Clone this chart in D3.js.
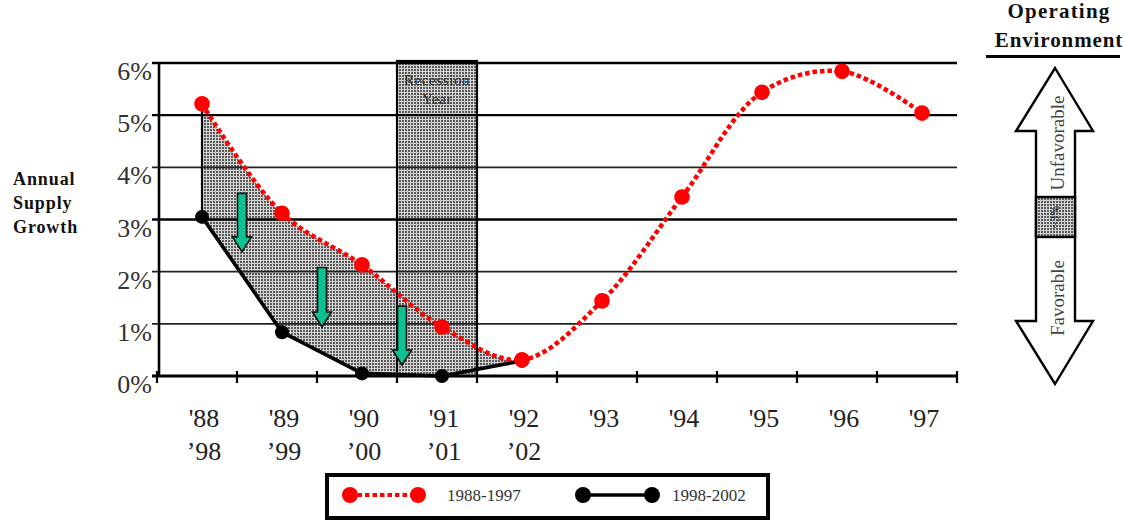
<!DOCTYPE html>
<html>
<head>
<meta charset="utf-8">
<script src="https://cdn.jsdelivr.net/npm/d3@7"></script>
<style>
  html, body { margin: 0; padding: 0; background: #fff; }
  svg { display: block; }
  text { font-family: "Liberation Serif", "Times New Roman", serif; }
</style>
</head>
<body>
<svg id="chart" width="1125" height="523"></svg>
<script>
// Year labels: first row is the 1988-1997 cycle, second row the 1998-2002 forecast
const years = ["'88", "'89", "'90", "'91", "'92", "'93", "'94", "'95", "'96", "'97"];
const forecastYears = ["\u201998", "\u201999", "\u201900", "\u201901", "\u201902"];

// Annual supply growth, percent
const growth8897 = [5.22, 3.12, 2.13, 0.94, 0.31, 1.44, 3.43, 5.44, 5.84, 5.04];
const growth9802 = [3.05, 0.84, 0.05, 0.0, 0.29];

const yTicks = [0, 1, 2, 3, 4, 5, 6];
const yTickLabels = ["0%", "1%", "2%", "3%", "4%", "5%", "6%"];
const majorGrid = [3, 5, 6];

const recessionYear = "'91";

// Down arrows showing the drop from the earlier cycle to the forecast
const dropArrows = [
  { left: "'88", right: "'89", from: 3.5, to: 2.38 },
  { left: "'89", right: "'90", from: 2.08, to: 0.94 },
  { left: "'90", right: "'91", from: 1.34, to: 0.21 }
];

const svg = d3.select("#chart");
const defs = svg.append("defs");

// fine dotted grey fill
const pat = defs.append("pattern")
  .attr("id", "dots").attr("patternUnits", "userSpaceOnUse")
  .attr("width", 3).attr("height", 3);
pat.append("rect").attr("width", 3).attr("height", 3).attr("fill", "#d4d4d4");
pat.append("rect").attr("width", 2).attr("height", 2).attr("fill", "#5a5a5a");

const x = d3.scaleBand().domain(years).range([157, 957]);
const px = d => x(d) + x.bandwidth() / 2 + 5;   // marker position inside each year band
const y = d3.scaleLinear().domain([0, 6]).range([376, 63]);

const red = "#ff0000";
const plotLeft = 159, plotRight = 957;

const series1 = years.map((d, i) => ({ k: d, v: growth8897[i] }));
const series2 = forecastYears.map((d, i) => ({ k: years[i], v: growth9802[i] }));

const redCurve = d3.curveCatmullRom.alpha(0.5);

// ---- shaded gap between the two cycles ----
const clip = defs.append("clipPath").attr("id", "gapClip");
clip.append("rect")
  .attr("x", px(years[0])).attr("y", 0)
  .attr("width", px(years[4]) - px(years[0])).attr("height", 400);

const mask = defs.append("mask").attr("id", "gapMask")
  .attr("maskUnits", "userSpaceOnUse")
  .attr("x", 0).attr("y", 0).attr("width", 1125).attr("height", 523);
mask.append("rect").attr("width", 1125).attr("height", 523).attr("fill", "#fff");
mask.append("path")
  .attr("fill", "#000")
  .attr("d", d3.area().x(d => px(d.k)).y0(y(0) + 20).y1(d => y(d.v))(series2));

svg.append("g").attr("clip-path", "url(#gapClip)").attr("mask", "url(#gapMask)")
  .append("path")
  .attr("fill", "url(#dots)")
  .attr("d", d3.area().curve(redCurve).x(d => px(d.k)).y0(y(0) + 20).y1(d => y(d.v))(series1));

// ---- recession band ----
svg.append("rect")
  .attr("x", x(recessionYear)).attr("y", y(6) - 2)
  .attr("width", x.bandwidth()).attr("height", y(0) - y(6) + 2)
  .attr("fill", "url(#dots)");

// ---- grid lines ----
svg.append("g").selectAll("line").data(yTicks.filter(t => t > 0)).join("line")
  .attr("x1", plotLeft - 7).attr("x2", plotRight)
  .attr("y1", d => y(d)).attr("y2", d => y(d))
  .attr("stroke", d => majorGrid.includes(d) ? "#000" : "#222")
  .attr("stroke-width", d => majorGrid.includes(d) ? 2.4 : 1.6);

// recession band outline and caption
svg.append("rect")
  .attr("x", x(recessionYear)).attr("y", y(6) - 2)
  .attr("width", x.bandwidth()).attr("height", y(0) - y(6) + 2)
  .attr("fill", "none").attr("stroke", "#000").attr("stroke-width", 2.2);
const recCx = x(recessionYear) + x.bandwidth() / 2;
svg.append("text").attr("x", recCx).attr("y", 85).attr("text-anchor", "middle")
  .attr("font-size", 15).attr("letter-spacing", 0.6).attr("fill", "#2a2a2a").text("Recession");
svg.append("text").attr("x", recCx).attr("y", 104).attr("text-anchor", "middle")
  .attr("font-size", 15).attr("letter-spacing", 0.6).attr("fill", "#2a2a2a").text("Year");

// ---- axes ----
svg.append("line").attr("x1", plotLeft).attr("x2", plotLeft)
  .attr("y1", y(6) - 1).attr("y2", y(0) + 1).attr("stroke", "#000").attr("stroke-width", 2.6);
svg.append("line").attr("x1", plotLeft - 7).attr("x2", plotRight + 1)
  .attr("y1", y(0)).attr("y2", y(0)).attr("stroke", "#000").attr("stroke-width", 3);
// x ticks on band boundaries
const bounds = years.map(d => x(d)).concat([x(years[years.length - 1]) + x.bandwidth()]);
svg.append("g").selectAll("line").data(bounds).join("line")
  .attr("x1", d => d).attr("x2", d => d)
  .attr("y1", y(0) - 5).attr("y2", y(0) + 7)
  .attr("stroke", "#000").attr("stroke-width", 2.2);

// y tick labels
svg.append("g").selectAll("text").data(yTicks).join("text")
  .attr("x", 152).attr("y", d => y(d) + 17)
  .attr("text-anchor", "end").attr("font-size", 26).attr("fill", "#333")
  .text((d, i) => yTickLabels[i]);

// x labels, two rows
svg.append("g").selectAll("text").data(years).join("text")
  .attr("x", d => px(d) + 2).attr("y", 427)
  .attr("text-anchor", "middle").attr("font-size", 26).attr("fill", "#222")
  .text(d => d);
svg.append("g").selectAll("text").data(forecastYears).join("text")
  .attr("x", (d, i) => px(years[i]) + 2).attr("y", 460)
  .attr("text-anchor", "middle").attr("font-size", 26).attr("fill", "#222")
  .text(d => d);

// y axis title
["Annual", "Supply", "Growth"].forEach((t, i) => {
  svg.append("text").attr("x", 13).attr("y", 185 + i * 24)
    .attr("font-size", 18).attr("font-weight", "bold").attr("letter-spacing", 0.9)
    .attr("fill", "#111").text(t);
});

// ---- lines ----
// left edge of the shaded gap
svg.append("line")
  .attr("x1", px(years[0])).attr("x2", px(years[0]))
  .attr("y1", y(growth8897[0])).attr("y2", y(growth9802[0]))
  .attr("stroke", "#000").attr("stroke-width", 2.2);

svg.append("path")
  .attr("fill", "none").attr("stroke", "#000").attr("stroke-width", 3.6)
  .attr("stroke-linejoin", "round")
  .attr("d", d3.line().x(d => px(d.k)).y(d => y(d.v))(series2));

svg.append("path")
  .attr("fill", "none").attr("stroke", red).attr("stroke-width", 4.5)
  .attr("stroke-dasharray", "4.5,3")
  .attr("d", d3.line().curve(redCurve).x(d => px(d.k)).y(d => y(d.v))(series1));

svg.append("g").selectAll("circle").data(series2).join("circle")
  .attr("cx", d => px(d.k)).attr("cy", d => y(d.v)).attr("r", 7).attr("fill", "#000");
svg.append("g").selectAll("circle").data(series1).join("circle")
  .attr("cx", d => px(d.k)).attr("cy", d => y(d.v)).attr("r", 7.8).attr("fill", red);

// ---- drop arrows ----
const arrowG = svg.append("g");
dropArrows.forEach(a => {
  const cx = (px(a.left) + px(a.right)) / 2;
  const top = y(a.from), tip = y(a.to);
  const sw = 4.5, hw = 9.5, hh = 15;
  const pts = [
    [cx - sw, top], [cx + sw, top], [cx + sw, tip - hh], [cx + hw, tip - hh],
    [cx, tip], [cx - hw, tip - hh], [cx - sw, tip - hh]
  ];
  arrowG.append("path")
    .attr("d", d3.line()(pts) + "Z")
    .attr("fill", "#0fc093").attr("stroke", "#111").attr("stroke-width", 1.6)
    .attr("stroke-linejoin", "miter");
});

// ---- operating environment gauge ----
const gx = 1055;
svg.append("text").attr("x", gx + 4).attr("y", 18).attr("text-anchor", "middle")
  .attr("font-size", 21).attr("font-weight", "bold").attr("letter-spacing", 1.2)
  .attr("fill", "#111").text("Operating");
svg.append("text").attr("x", gx + 4).attr("y", 47).attr("text-anchor", "middle")
  .attr("font-size", 21).attr("font-weight", "bold").attr("letter-spacing", 0.9)
  .attr("fill", "#111").text("Environment");
svg.append("line").attr("x1", 986).attr("x2", 1120).attr("y1", 56.5).attr("y2", 56.5)
  .attr("stroke", "#000").attr("stroke-width", 3);

const shaftL = 1036, shaftR = 1075, headL = 1016, headR = 1093;
const tipTop = 68, headTop = 131, headBot = 321, tipBot = 384;
const gauge = [
  [gx, tipTop], [headR, headTop], [shaftR, headTop], [shaftR, headBot], [headR, headBot],
  [gx, tipBot], [headL, headBot], [shaftL, headBot], [shaftL, headTop], [headL, headTop]
];
svg.append("path").attr("d", d3.line()(gauge) + "Z")
  .attr("fill", "#fff").attr("stroke", "#000").attr("stroke-width", 2.4)
  .attr("stroke-linejoin", "miter");
svg.append("rect").attr("x", shaftL).attr("y", 197).attr("width", shaftR - shaftL).attr("height", 40)
  .attr("fill", "url(#dots)").attr("stroke", "#000").attr("stroke-width", 2.4);
svg.append("text").attr("transform", `translate(${gx + 4},217) rotate(-90)`)
  .attr("text-anchor", "middle").attr("font-size", 12).attr("fill", "#222").text("~3%");
svg.append("text").attr("transform", `translate(${gx + 9},143) rotate(-90)`)
  .attr("text-anchor", "middle").attr("font-size", 19).attr("fill", "#444").text("Unfavorable");
svg.append("text").attr("transform", `translate(${gx + 9},298) rotate(-90)`)
  .attr("text-anchor", "middle").attr("font-size", 19).attr("fill", "#444").text("Favorable");

// ---- legend ----
const lg = svg.append("g");
lg.append("rect").attr("x", 327).attr("y", 475).attr("width", 441).attr("height", 43)
  .attr("fill", "#fff").attr("stroke", "#000").attr("stroke-width", 4);
lg.append("line").attr("x1", 350).attr("x2", 418).attr("y1", 495).attr("y2", 495)
  .attr("stroke", red).attr("stroke-width", 4).attr("stroke-dasharray", "4.5,3");
[350, 418].forEach(cx => lg.append("circle").attr("cx", cx).attr("cy", 495).attr("r", 8).attr("fill", red));
lg.append("text").attr("x", 447).attr("y", 501).attr("font-size", 17).attr("fill", "#333").text("1988-1997");
lg.append("line").attr("x1", 583).attr("x2", 652).attr("y1", 495).attr("y2", 495)
  .attr("stroke", "#000").attr("stroke-width", 3.5);
[583, 652].forEach(cx => lg.append("circle").attr("cx", cx).attr("cy", 495).attr("r", 8).attr("fill", "#000"));
lg.append("text").attr("x", 672).attr("y", 501).attr("font-size", 17).attr("fill", "#333").text("1998-2002");
</script>
</body>
</html>
